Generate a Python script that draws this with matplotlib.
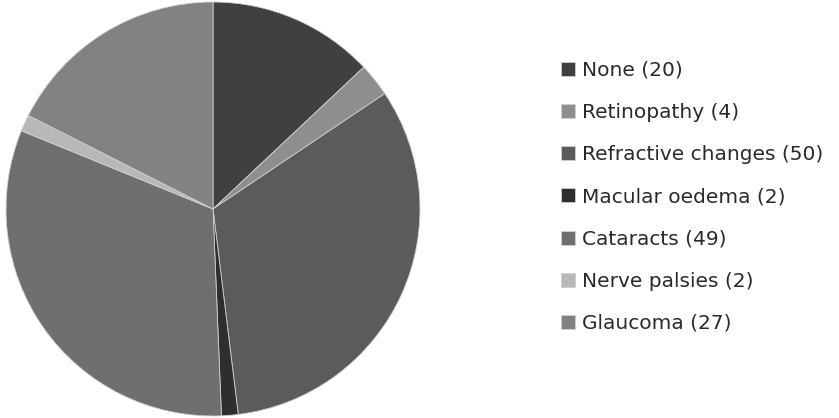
import matplotlib.pyplot as plt

labels = ['None', 'Retinopathy', 'Refractive changes', 'Macular oedema',
          'Cataracts', 'Nerve palsies', 'Glaucoma']
counts = [20, 4, 50, 2, 49, 2, 27]
colors = ['#404040', '#8e8e8e', '#5b5b5b', '#2e2e2e', '#6f6f6f', '#b8b8b8', '#828282']

plt.rcParams['font.family'] = ['DejaVu Sans']

fig = plt.figure(figsize=(8.39, 4.18), dpi=100)
# pie axes: center ~ (213, 210) px, radius ~ 208 px
ax = fig.add_axes([5 / 839, 2 / 418, 416 / 839, 414 / 418])
wedges, _ = ax.pie(counts, colors=colors, startangle=90, counterclock=False,
                   wedgeprops=dict(linewidth=0.6, edgecolor='#d0d0d0'))
ax.set_xlim(-1.0, 1.0)
ax.set_ylim(-1.0, 1.0)
ax.set_aspect('equal')

leg_labels = ['{} ({})'.format(l, c) for l, c in zip(labels, counts)]
leg = fig.legend(wedges, leg_labels, loc='upper left',
                 bbox_to_anchor=(561 / 839, 1 - 61 / 418),
                 frameon=False, fontsize=14.5, handlelength=0.7, handleheight=0.7,
                 handletextpad=0.35, labelspacing=1.15, borderpad=0, borderaxespad=0)
for t in leg.get_texts():
    t.set_color('#2a2a2a')

plt.savefig('out.png', dpi=100)
